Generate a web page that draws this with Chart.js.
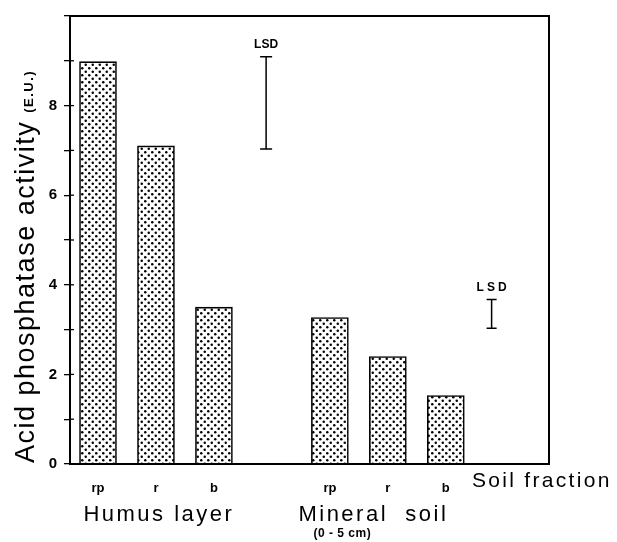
<!DOCTYPE html>
<html>
<head>
<meta charset="utf-8">
<script src="https://cdn.jsdelivr.net/npm/chart.js@4/dist/chart.umd.min.js"></script>
<style>
  body { margin: 0; background: #fff; }
  #wrap { width: 617px; height: 542px; }
</style>
</head>
<body>
<div id="wrap"><canvas id="myChart" width="617" height="542"></canvas></div>
<script>
// bar positions on the x scale (slot 3 is the gap between the two layers)
const barPos = [0, 1, 2, 4, 5, 6];
const fractions = ['rp', 'r', 'b', 'rp', 'r', 'b'];
const activity = [8.98, 7.1, 3.5, 3.27, 2.4, 1.53];

const groups = ['Humus layer', 'Mineral  soil'];
const groupPos = [1.05, 4.75];

const lsdPos = [2.9, 6.79];
const lsdLow = [7.03, 3.03];
const lsdHigh = [9.09, 3.67];

const yTicks = [0, 2, 4, 6, 8];

function dots() {
    const c = document.createElement('canvas');
    c.width = 7; c.height = 7;
    const g = c.getContext('2d');
    g.fillStyle = '#fff';
    g.fillRect(0, 0, 7, 7);
    g.fillStyle = '#000';
    g.beginPath(); g.arc(1.75, 1.75, 1.25, 0, Math.PI * 2); g.fill();
    g.beginPath(); g.arc(5.25, 5.25, 1.25, 0, Math.PI * 2); g.fill();
    return g.createPattern(c, 'repeat');
}

const FONT = '"Liberation Sans", Arial, sans-serif';

const extras = {
    id: 'extras',
    afterDraw(chart) {
        const ctx = chart.ctx;
        const a = chart.chartArea;
        const x = chart.scales.x, y = chart.scales.y;
        ctx.save();
        ctx.strokeStyle = '#000';
        ctx.fillStyle = '#000';

        // frame
        ctx.lineWidth = 2;
        ctx.strokeRect(a.left, a.top, a.right - a.left, a.bottom - a.top);

        // inner half of the y ticks
        ctx.lineWidth = 1.3;
        for (let v = 1; v < 10; v++) {
            const py = y.getPixelForValue(v);
            ctx.beginPath(); ctx.moveTo(a.left, py); ctx.lineTo(a.left + 4, py); ctx.stroke();
        }

        // LSD bars
        lsdPos.forEach((p, i) => {
            const px = x.getPixelForValue(p);
            const top = y.getPixelForValue(lsdHigh[i]);
            const bot = y.getPixelForValue(lsdLow[i]);
            const cap = i === 0 ? 6 : 5;
            ctx.lineWidth = 1.5;
            ctx.beginPath();
            ctx.moveTo(px, top); ctx.lineTo(px, bot);
            ctx.moveTo(px - cap, top); ctx.lineTo(px + cap, top);
            ctx.moveTo(px - cap, bot); ctx.lineTo(px + cap, bot);
            ctx.stroke();
            ctx.font = 'bold 12px ' + FONT;
            ctx.letterSpacing = i === 0 ? '0px' : '3px';
            ctx.textAlign = 'center';
            ctx.textBaseline = 'alphabetic';
            ctx.fillText('LSD', px + (i === 0 ? 0 : 1.5), top - 9);
        });

        // y title
        ctx.save();
        ctx.translate(34, 463);
        ctx.rotate(-Math.PI / 2);
        ctx.textAlign = 'left';
        ctx.font = '27px ' + FONT;
        ctx.letterSpacing = '1.5px';
        const t1 = 'Acid phosphatase activity';
        ctx.fillText(t1, 0, 0);
        const w1 = ctx.measureText(t1).width;
        ctx.font = 'bold 13px ' + FONT;
        ctx.letterSpacing = '1.5px';
        ctx.fillText('(E.U.)', w1 + 8, -1);
        ctx.restore();

        // group labels
        ctx.textAlign = 'center';
        ctx.font = '22px ' + FONT;
        ctx.letterSpacing = '2.5px';
        groups.forEach((g, i) => {
            ctx.fillText(g, x.getPixelForValue(groupPos[i]), 521);
        });
        ctx.font = 'bold 12px ' + FONT;
        ctx.letterSpacing = '0.5px';
        ctx.fillText('(0 - 5 cm)', x.getPixelForValue(groupPos[1]) - 31, 537);

        // x title
        ctx.textAlign = 'left';
        ctx.font = '21px ' + FONT;
        ctx.letterSpacing = '2.3px';
        ctx.fillText('Soil fraction', 472, 487);
        ctx.restore();
    }
};

new Chart(document.getElementById('myChart'), {
    type: 'bar',
    data: {
        datasets: [{
            data: barPos.map((p, i) => ({ x: p, y: activity[i] })),
            backgroundColor: dots(),
            borderColor: '#000',
            borderWidth: 1.6,
            borderSkipped: 'bottom',
            barThickness: 37,
        }]
    },
    options: {
        responsive: false,
        animation: false,
        layout: { padding: { left: 0, top: 11, right: 68, bottom: 0 } },
        plugins: { legend: { display: false }, tooltip: { enabled: false } },
        scales: {
            x: {
                type: 'linear',
                offset: false,
                min: -0.483,
                max: 7.78,
                grid: { display: false, offset: false },
                border: { display: false },
                afterBuildTicks: scale => { scale.ticks = barPos.map(v => ({ value: v })); },
                afterFit: scale => { scale.height = 78; },
                ticks: {
                    autoSkip: false,
                    maxRotation: 0,
                    padding: 9,
                    color: '#000',
                    font: { family: FONT, size: 13, weight: 'bold' },
                    callback: function (val) {
                        const i = barPos.indexOf(val);
                        return i >= 0 ? fractions[i] : '';
                    },
                },
            },
            y: {
                min: 0,
                max: 10,
                grid: { drawOnChartArea: false, drawTicks: true, tickLength: 6, color: '#000', lineWidth: 1.3 },
                border: { display: false },
                afterFit: scale => { scale.width = 70; },
                ticks: {
                    stepSize: 1,
                    padding: 7,
                    color: '#000',
                    font: { family: FONT, size: 15, weight: 'bold' },
                    callback: v => yTicks.includes(v) ? v : '',
                },
            },
        },
    },
    plugins: [extras],
});
</script>
</body>
</html>
